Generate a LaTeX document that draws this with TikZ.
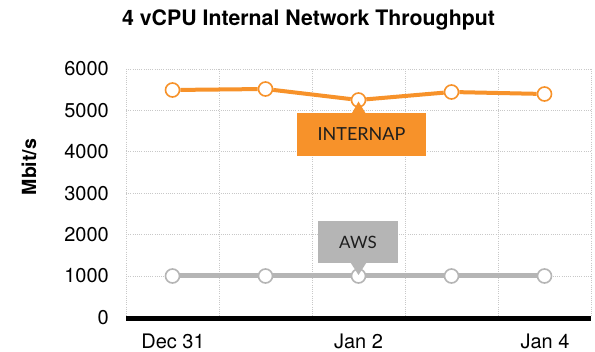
\documentclass[tikz,border=0pt]{standalone}
\usepackage{fontspec}
\setmainfont{TeX Gyre Heros}
\newfontfamily\callfont{Lato}
\definecolor{inorange}{HTML}{F7922A}
\definecolor{awsgrey}{HTML}{B5B5B5}
\definecolor{gridgrey}{HTML}{C8C8C8}
\definecolor{txtdark}{HTML}{1E1E1E}
\tikzset{
  gridline/.style={draw=gridgrey, line width=0.8pt, dash pattern=on 1pt off 1.2pt},
  ticklab/.style={anchor=east, inner sep=0pt, font=\fontsize{20}{24}\selectfont},
  datelab/.style={inner sep=0pt, font=\fontsize{20}{24}\selectfont},
  inpt/.style={circle, draw=inorange, fill=white, line width=1.6pt, minimum size=14pt, inner sep=0pt},
  awspt/.style={circle, draw=awsgrey, fill=white, line width=1.6pt, minimum size=14pt, inner sep=0pt},
  inline/.style={draw=inorange, line width=4pt},
  awsline/.style={draw=awsgrey, line width=5pt},
  callbox/.style={rectangle, inner sep=0pt, text=txtdark},
}
\begin{document}
\begin{tikzpicture}[x=1pt,y=-1pt]
\useasboundingbox (0,0) rectangle (595,352);
\fill[white] (0,0) rectangle (595,352);
% grid
\foreach \y in {69,110.4,151.8,193.2,234.6,276}
  \draw[gridline] (126,\y) -- (591,\y);
\foreach \x in {126,219,312,405,498,591}
  \draw[gridline] (\x,69) -- (\x,317);
% axis
\coordinate (axl) at (126,319);
\coordinate (axr) at (591,319);
\draw[line width=5pt] (axl) -- (axr);
% title
\node[font=\bfseries\fontsize{21.3}{25}\selectfont] (title) at (308.5,20) {4 vCPU Internal Network Throughput};
% y label
\node[rotate=90, font=\bfseries\fontsize{19.5}{22}\selectfont] (ylab) at (29,167) {Mbit/s};
% tick labels
\node[ticklab] (t6) at (109,69) {6000};
\node[ticklab] (t5) at (109,110.4) {5000};
\node[ticklab] (t4) at (109,151.8) {4000};
\node[ticklab] (t3) at (109,193.2) {3000};
\node[ticklab] (t2) at (109,234.6) {2000};
\node[ticklab] (t1) at (109,276) {1000};
\node[ticklab] (t0) at (109,317.4) {0};
% date labels
\node[datelab] (d1) at (173,341.5) {Dec 31};
\node[datelab] (d2) at (358.5,341.5) {Jan 2};
\node[datelab] (d3) at (545,341.5) {Jan 4};
% AWS series
\node[awspt] (a1) at (172.5,276) {};
\node[awspt] (a2) at (265.5,276) {};
\node[awspt] (a3) at (358.5,276) {};
\node[awspt] (a4) at (451.5,276) {};
\node[awspt] (a5) at (544.5,276) {};
\draw[awsline] (a1) -- (a2);
\draw[awsline] (a2) -- (a3);
\draw[awsline] (a3) -- (a4);
\draw[awsline] (a4) -- (a5);
% INTERNAP series
\node[inpt] (i1) at (172.5,90) {};
\node[inpt] (i2) at (265.5,89) {};
\node[inpt] (i3) at (358.5,100) {};
\node[inpt] (i4) at (451.5,92) {};
\node[inpt] (i5) at (544.5,94) {};
\draw[inline] (i1) -- (i2);
\draw[inline] (i2) -- (i3);
\draw[inline] (i3) -- (i4);
\draw[inline] (i4) -- (i5);
% callouts
\node[callbox, fill=inorange, minimum width=129pt, minimum height=43pt, font=\callfont\fontsize{18}{21}\selectfont] (cin) at (361.5,134.5) {INTERNAP};
\fill[inorange] (351.5,114) -- (358.5,101.5) -- (366,114) -- cycle;
\node[callbox, fill=awsgrey, minimum width=80pt, minimum height=42pt, font=\callfont\fontsize{17}{20}\selectfont] (caws) at (358,242) {AWS};
\fill[awsgrey] (350.5,262.5) -- (358.5,275) -- (366.5,262.5) -- cycle;
\end{tikzpicture}
\end{document}
